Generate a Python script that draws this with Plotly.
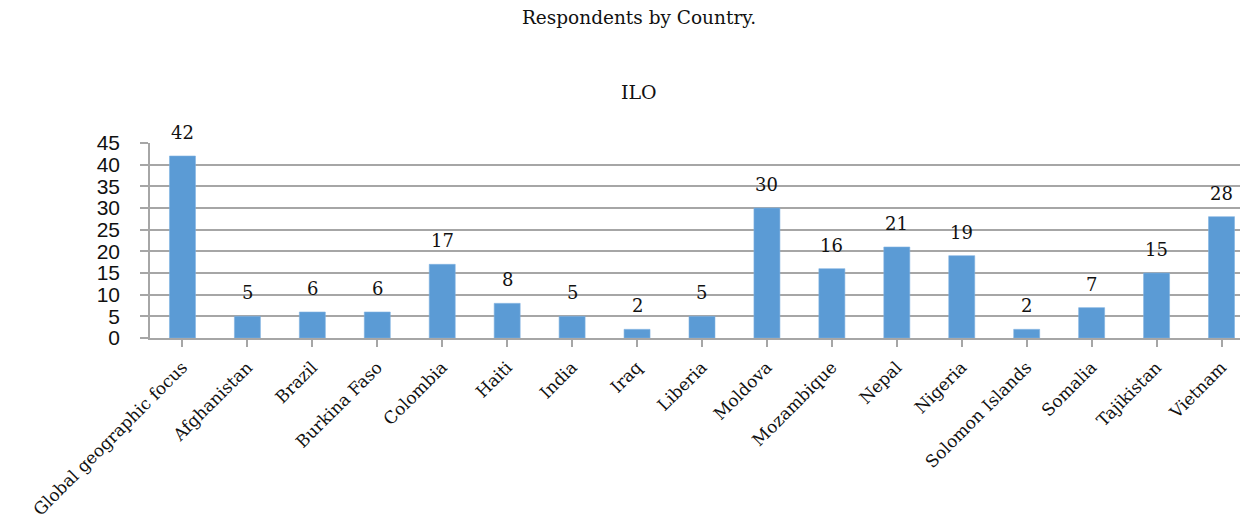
import plotly.graph_objects as go

countries = ["Global geographic focus", "Afghanistan", "Brazil", "Burkina Faso",
             "Colombia", "Haiti", "India", "Iraq", "Liberia", "Moldova",
             "Mozambique", "Nepal", "Nigeria", "Solomon Islands", "Somalia",
             "Tajikistan", "Vietnam"]
respondents = [42, 5, 6, 6, 17, 8, 5, 2, 5, 30, 16, 21, 19, 2, 7, 15, 28]
y_ticks = [0, 5, 10, 15, 20, 25, 30, 35, 40, 45]

W, H = 1240, 528
ML, MT, MB = 150, 143, 190
STEP = 64.94  # pixel width of one category slot

serif = "DejaVu Serif"
sans = "Liberation Sans"

fig = go.Figure()
fig.add_trace(go.Bar(
    x=list(range(len(countries))), y=respondents,
    marker=dict(color="#5B9BD5", line=dict(color="#7FB2E0", width=0.6)),
    width=0.4, showlegend=False, hoverinfo="x+y",
))

annotations = []
for i, v in enumerate(respondents):
    annotations.append(dict(
        x=i, y=v, xref="x", yref="y", text=str(v), showarrow=False,
        yanchor="bottom", yshift=11,
        font=dict(family=serif, size=18, color="#111111"),
    ))

plot_h = H - MT - MB
annotations.append(dict(
    x=(639 - ML) / (W - ML), y=(H - MB - 92) / plot_h, xref="paper", yref="paper",
    text="ILO", showarrow=False, xanchor="center", yanchor="middle",
    font=dict(family=serif, size=19, color="#111111"),
))

x_span = (W - ML) / STEP
fig.update_layout(
    width=W, height=H,
    margin=dict(l=ML, r=0, t=MT, b=MB, pad=0),
    paper_bgcolor="white", plot_bgcolor="white",
    title=dict(text="Respondents by Country.", x=639 / W, xref="container",
               xanchor="center", y=1 - 18 / H, yref="container", yanchor="middle",
               font=dict(family=serif, size=18.5, color="#111111")),
    annotations=annotations,
    xaxis=dict(
        range=[-0.5, -0.5 + x_span], automargin=False,
        tickmode="array", tickvals=list(range(len(countries))), ticktext=countries,
        tickangle=-45, showgrid=False,
        showline=True, linecolor="#A6A6A6", linewidth=1.5,
        ticks="outside", ticklen=7, tickcolor="#A6A6A6", tickwidth=1.5,
        tickson="boundaries", ticklabelstandoff=4,
        tickfont=dict(family=serif, size=17, color="#111111"),
        zeroline=False, fixedrange=True,
    ),
    yaxis=dict(
        range=[0, 45], tickmode="array", tickvals=y_ticks, automargin=False,
        showgrid=True, gridcolor="#A6A6A6", gridwidth=1.5,
        showline=True, linecolor="#A6A6A6", linewidth=1.5,
        ticks="outside", ticklen=8, tickcolor="#A6A6A6", tickwidth=1.5,
        ticklabelstandoff=16,
        tickfont=dict(family=sans, size=21, color="#111111"),
        zeroline=False, fixedrange=True,
    ),
    bargap=0.6,
)

fig.write_html("out.html")
